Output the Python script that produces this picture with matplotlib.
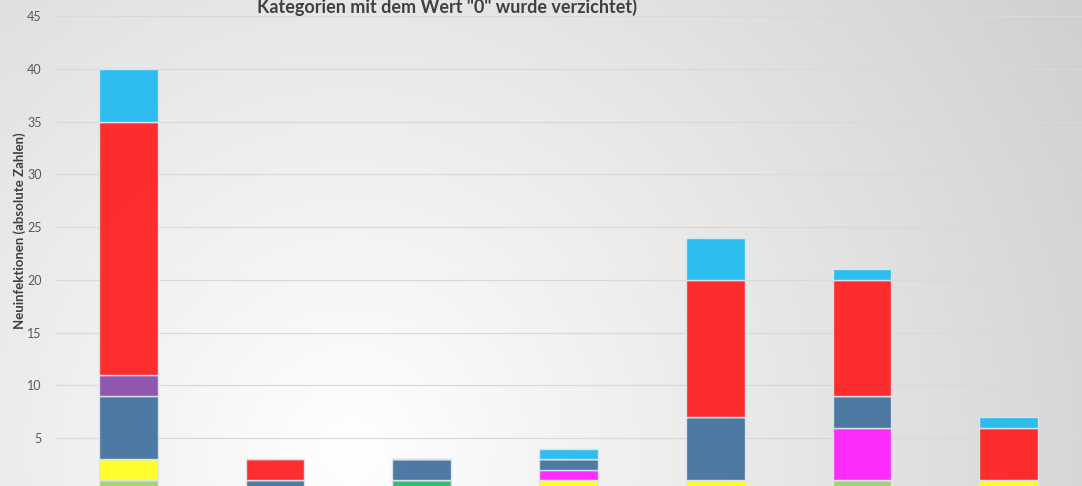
import numpy as np
import matplotlib.pyplot as plt

# ---------------------------
# Daten (Neuinfektionen, gestapelt)
# ---------------------------

kategorien = ["Kat. 1", "Kat. 2", "Kat. 3", "Kat. 4", "Kat. 5", "Kat. 6", "Kat. 7"]

serien = ["Gruppe A", "Gruppe B", "Gruppe C", "Gruppe D",
          "Gruppe E", "Gruppe F", "Gruppe G", "Gruppe H"]

gruppe_a = [1, 0, 0, 0, 0, 1, 0]     # hellgruen
gruppe_b = [0, 0, 1, 0, 0, 0, 0]     # gruen
gruppe_c = [2, 0, 0, 1, 1, 0, 1]     # gelb
gruppe_d = [0, 0, 0, 1, 0, 5, 0]     # magenta
gruppe_e = [6, 1, 2, 1, 6, 3, 0]     # blau
gruppe_f = [2, 0, 0, 0, 0, 0, 0]     # lila
gruppe_g = [24, 2, 0, 0, 13, 11, 5]  # rot
gruppe_h = [5, 0, 0, 1, 4, 1, 1]     # cyan

werte = [gruppe_a, gruppe_b, gruppe_c, gruppe_d, gruppe_e, gruppe_f, gruppe_g, gruppe_h]
farben = ["#9ED36A", "#2BB86A", "#FFFF22", "#FF22FF",
          "#44739F", "#8A4FAA", "#FF2323", "#23BBEF"]

titel_zeile = 'Kategorien mit dem Wert "0" wurde verzichtet)'
y_label = "Neuinfektionen (absolute Zahlen)"

W, H = 1082, 486
plt.rcParams['font.family'] = ['Lato', 'DejaVu Sans']

fig = plt.figure(figsize=(W / 100, H / 100), dpi=100)

# Hintergrund: radialer Verlauf (weiss -> grau)
bg = fig.add_axes([0, 0, 1, 1], zorder=-10)
yy, xx = np.mgrid[0:H, 0:W]
dist = np.sqrt((xx - 350.0) ** 2 + (yy - 450.0) ** 2)
grau = np.clip(255 - 0.055 * dist, 0, 255) / 255.0
bg.imshow(np.dstack([grau, grau, grau]), aspect='auto', extent=[0, 1, 0, 1])
bg.set_axis_off()

# Diagramm-Achse (unten abgeschnitten wie im Original)
ax = fig.add_axes([55 / W, -5 / H, 1027 / W, 475 / H])
ax.set_facecolor('none')

x = np.arange(len(kategorien))
boden = np.zeros(len(kategorien))
for name, vals, col in zip(serien, werte, farben):
    vals = np.array(vals, dtype=float)
    ax.bar(x, vals, width=0.4, bottom=boden, color=col, alpha=0.95,
           edgecolor='#DCE4EE', linewidth=1.0, label=name, zorder=3)
    boden += vals

ax.set_xlim(-0.5, len(kategorien) - 0.5)
ax.set_ylim(0, 45)
ax.set_yticks(np.arange(5, 50, 5))
ax.tick_params(axis='y', length=0, pad=9.5, labelsize=9, labelcolor='#595959')
ax.tick_params(axis='x', length=0, labelbottom=False)
ax.grid(axis='y', color='#D9D9D9', linewidth=0.9, zorder=0)
for s in ax.spines.values():
    s.set_visible(False)

fig.text(20 / W, 1 - 231 / H, y_label, rotation=90, ha='center', va='center',
         fontsize=9.5, fontweight='bold', color='#404040')
fig.text(447 / W, 1 - 13 / H, titel_zeile, ha='center', va='baseline',
         fontsize=13, fontweight='bold', color='#404040')

fig.savefig("out.png", dpi=100)
